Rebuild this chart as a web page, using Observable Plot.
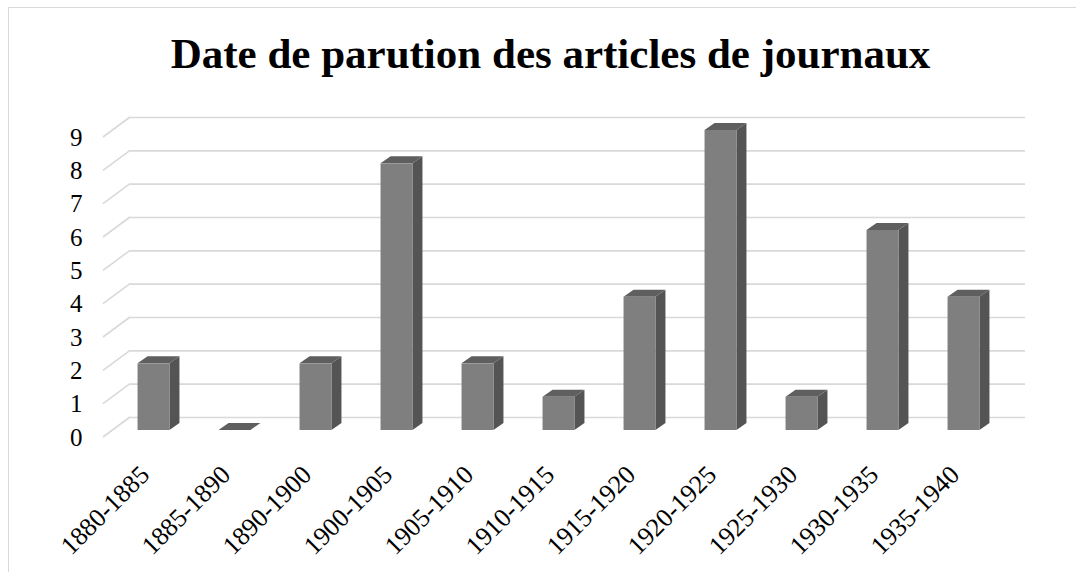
<!DOCTYPE html>
<html><head><meta charset="utf-8">
<script src="https://cdn.jsdelivr.net/npm/d3@7"></script>
<script src="https://cdn.jsdelivr.net/npm/@observablehq/plot@0.6"></script>
<style>
body{margin:0;background:#fff;}
#wrap{position:relative;width:1076px;height:572px;overflow:hidden;background:#fff;}
#frame{position:absolute;left:8px;top:7px;width:1100px;height:600px;border-left:1.5px solid #d9d9d9;border-top:1.5px solid #d9d9d9;}
#title{position:absolute;left:0;width:1101px;top:32px;text-align:center;font:bold 43px/1 "Liberation Serif","Times New Roman",serif;color:#000;white-space:nowrap;}
#chart{position:absolute;left:0;top:0;}
</style></head>
<body>
<div id="wrap"><div id="frame"></div><div id="chart"></div><div id="title">Date de parution des articles de journaux</div></div>
<script>
const categories = ["1880-1885","1885-1890","1890-1900","1900-1905","1905-1910","1910-1915","1915-1920","1920-1925","1925-1930","1930-1935","1935-1940"];
const counts = [2,0,2,8,2,1,4,9,1,6,4];
const yTicks = [0,1,2,3,4,5,6,7,8,9];

const data = categories.map((c,i)=>({cat:c, n:counts[i]}));

const GRID = "#d9d9d9";
const WALL_DX = 27, WALL_DY = -20;   // depth of back wall
const BAR_DY = -7;                   // bars sit slightly behind the front plane
const DEPTH_DX = 10, DEPTH_DY = -7;  // bar extrusion

const chart = Plot.plot({
  width: 1076, height: 572,
  marginLeft: 103, marginRight: 51, marginTop: 100, marginBottom: 135,
  style: {fontFamily: "'Liberation Serif','Times New Roman',serif", background: "transparent", color: "#000"},
  x: {type: "band", domain: categories, range: [112.4, 1005.1], padding: 0, axis: null},
  y: {domain: [0, 9], range: [437, 137], axis: null},
  marks: [
    // back-wall gridlines
    Plot.ruleY(yTicks, {y: d => d, dy: WALL_DY, insetLeft: WALL_DX, stroke: GRID, strokeWidth: 1.6}),
    // side-wall diagonals
    Plot.ruleY(yTicks, {y: d => d, render: (index, scales, values, dims) => {
      const g = d3.create("svg:g").attr("stroke", GRID).attr("stroke-width", 1.6);
      for (const i of index) {
        const y = values.y[i];
        g.append("line").attr("x1", dims.marginLeft).attr("y1", y)
          .attr("x2", dims.marginLeft + WALL_DX).attr("y2", y + WALL_DY);
      }
      return g.node();
    }}),
    Plot.axisY(yTicks, {anchor: "left", tickSize: 0, tickPadding: 21, fontSize: 25, label: null}),
    // 3D columns
    Plot.barY(data, {x: "cat", y: "n", render: (index, scales, values, dims) => {
      const g = d3.create("svg:g");
      const step = scales.x(categories[1]) - scales.x(categories[0]);
      const w = 0.394 * step;
      for (const i of index) {
        const d = data[i];
        const cx = scales.x(d.cat) + step / 2;
        const x0 = cx - w / 2, x1 = cx + w / 2;
        const yb = scales.y(0) + BAR_DY, yt = scales.y(d.n) + BAR_DY;
        g.append("path").attr("fill", "#545454")
          .attr("d", `M${x1},${yt}L${x1+DEPTH_DX},${yt+DEPTH_DY}L${x1+DEPTH_DX},${yb+DEPTH_DY}L${x1},${yb}Z`);
        g.append("path").attr("fill", "#5f5f5f")
          .attr("d", `M${x0},${yt}L${x0+DEPTH_DX},${yt+DEPTH_DY}L${x1+DEPTH_DX},${yt+DEPTH_DY}L${x1},${yt}Z`);
        g.append("rect").attr("fill", "#7f7f7f")
          .attr("x", x0).attr("y", yt).attr("width", w).attr("height", yb - yt);
      }
      return g.node();
    }}),
    // category labels
    Plot.text(categories, {x: d => d, y: () => 0, text: d => d, rotate: -45, textAnchor: "end",
      dx: -9, dy: 33, fontSize: 26, fill: "#000"})
  ]
});
document.getElementById("chart").appendChild(chart);
</script>
</body></html>
